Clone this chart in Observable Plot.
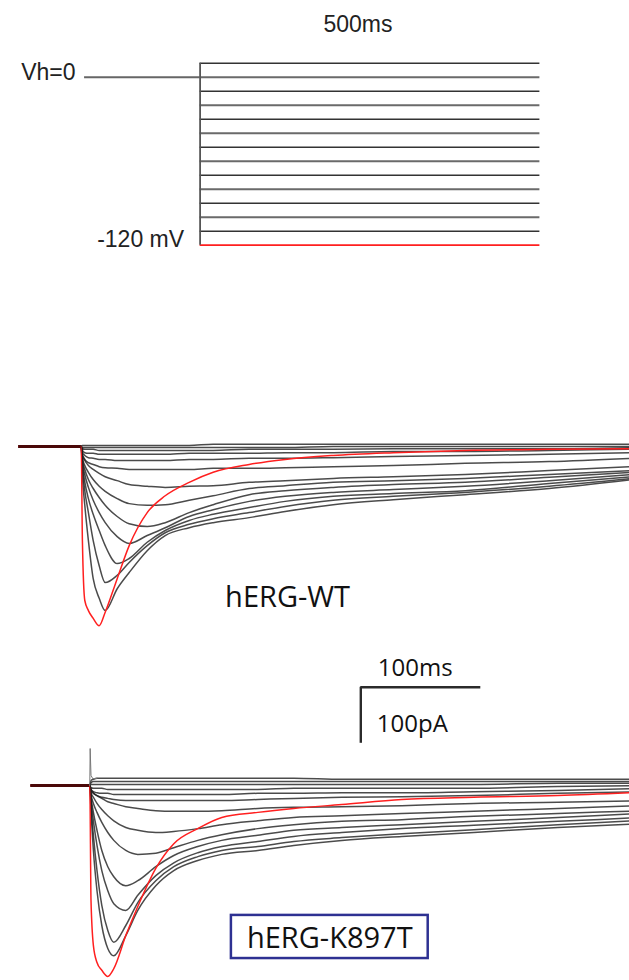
<!DOCTYPE html>
<html><head><meta charset="utf-8">
<script src="https://cdn.jsdelivr.net/npm/d3@7"></script>
<script src="https://cdn.jsdelivr.net/npm/@observablehq/plot@0.6"></script>
<style>
html,body{margin:0;padding:0;width:629px;height:980px;overflow:hidden;background:#fff;}
#root{position:relative;width:629px;height:980px;}
.panel{position:absolute;left:0;width:629px;overflow:hidden;}
.panel svg{display:block;}
</style></head><body><div id="root"></div>
<script>
// ---- voltage protocol ----
const stepVoltages = [10, 0, -10, -20, -30, -40, -50, -60, -70, -80, -90, -100, -110, -120]; // mV
const holdingVoltage = 0;       // mV
const holdingStart = -170;      // ms (before the step)
const stepDuration = 500;       // ms

// ---- sampled current traces (pA), one array per step voltage, at these times (ms) ----
const tSamples = [0, 1, 3, 6, 10, 15, 20, 30, 40, 55, 70, 90, 110, 140, 170, 210, 260, 320, 390, 460];

const wtCurrents = [
  [0,2,2,2,2,2,2,2,2,2,2,2,4,4,4,4,4,4,4,4],
  [0,-2,-2,-2,-2,-2,-2,-2,-2,-2,-2,-2,-2,-2,-2,0,0,0,0,0],
  [0,-4,-5,-5,-5,-7,-7,-7,-7,-7,-7,-7,-7,-5,-5,-5,-4,-4,-4,-2],
  [0,-7,-11,-12,-12,-14,-14,-14,-14,-14,-14,-12,-12,-12,-11,-11,-9,-9,-7,-5],
  [0,-11,-16,-20,-21,-23,-23,-25,-25,-25,-25,-23,-23,-21,-21,-20,-18,-16,-14,-11],
  [0,-14,-23,-29,-32,-36,-38,-39,-41,-41,-41,-41,-39,-39,-38,-36,-34,-30,-27,-21],
  [0,-16,-25,-34,-41,-48,-54,-61,-68,-71,-73,-71,-70,-64,-61,-57,-54,-50,-43,-36],
  [0,-20,-34,-46,-59,-71,-80,-93,-102,-105,-104,-96,-88,-75,-70,-64,-61,-57,-50,-43],
  [0,-23,-41,-59,-75,-91,-105,-125,-138,-143,-136,-118,-104,-86,-79,-73,-68,-64,-55,-46],
  [0,-27,-50,-73,-96,-118,-136,-161,-173,-159,-145,-125,-113,-98,-89,-82,-77,-71,-61,-50],
  [0,-32,-63,-93,-121,-150,-177,-209,-200,-171,-150,-132,-121,-109,-98,-89,-84,-79,-66,-54],
  [0,-39,-79,-118,-168,-213,-243,-230,-207,-177,-154,-139,-129,-118,-107,-96,-89,-82,-71,-57],
  [0,-52,-105,-168,-236,-271,-293,-254,-225,-186,-159,-145,-136,-127,-116,-104,-95,-86,-75,-59],
  [0,-168,-275,-293,-307,-320,-296,-236,-177,-118,-88,-64,-46,-32,-23,-16,-11,-7,-5,-4]
];

const k897tCurrents = [
  [0,9,11,13,13,13,13,13,13,13,13,13,13,13,13,11,11,11,11,11],
  [0,5,7,7,7,7,7,7,7,7,7,7,7,7,7,7,7,7,7,7],
  [0,2,2,2,2,2,2,2,2,2,2,2,2,2,2,2,2,2,4,4],
  [0,-4,-5,-5,-5,-7,-7,-7,-7,-7,-7,-7,-7,-7,-5,-5,-5,-5,-2,0],
  [0,-7,-11,-13,-14,-14,-16,-16,-16,-16,-16,-16,-16,-14,-14,-13,-13,-11,-9,-5],
  [0,-9,-14,-18,-21,-23,-25,-27,-27,-27,-27,-27,-27,-25,-23,-21,-20,-18,-14,-11],
  [0,-7,-13,-18,-23,-29,-32,-38,-41,-45,-46,-46,-45,-41,-39,-38,-36,-32,-30,-27],
  [0,-13,-21,-32,-43,-54,-63,-75,-80,-84,-82,-77,-70,-63,-57,-54,-50,-46,-41,-36],
  [0,-16,-32,-48,-66,-84,-98,-116,-123,-121,-111,-98,-88,-77,-70,-64,-61,-55,-50,-45],
  [0,-21,-48,-80,-116,-145,-163,-179,-170,-145,-125,-109,-98,-89,-80,-75,-70,-64,-57,-50],
  [0,-27,-63,-107,-152,-188,-211,-223,-196,-161,-138,-120,-109,-100,-91,-84,-77,-71,-64,-57],
  [0,-36,-89,-152,-214,-259,-280,-250,-209,-170,-145,-127,-116,-109,-100,-93,-86,-79,-70,-62],
  [0,-45,-116,-188,-250,-291,-304,-268,-223,-179,-152,-134,-123,-116,-107,-98,-91,-84,-75,-68],
  [0,-205,-286,-316,-330,-341,-327,-268,-216,-148,-104,-77,-57,-48,-41,-34,-25,-21,-18,-12]
];

// capacitive artefact at the step (K897T)
const spikeT = [0, 0.3, 1, 2.5, 6];
const spikeI = [0, 66, 18, 12, 13];

// pre-step holding segment start (ms)
const wtPreStart = -52;
const k897tPreStart = -49;

// labels
const panelLabels = ["hERG-WT", "hERG-K897T"];
const scaleBarTime = 100;   // ms
const scaleBarCurrent = 100; // pA

const RED = "#ff1f1f";
const root = document.getElementById("root");
function place(svg, top, height) {
  const d = document.createElement("div");
  d.className = "panel";
  d.style.top = top + "px";
  d.style.height = height + "px";
  d.appendChild(svg);
  root.appendChild(d);
}

// ---------- Protocol ----------
const protoFont = "Liberation Sans, Arial, sans-serif";
const stepRows = stepVoltages.map((v, k) => ({v, k, t1: 0, t2: stepDuration}));
const protocol = Plot.plot({
  width: 629, height: 330, margin: 0,
  x: {domain: [0, 500], range: [199.6, 539.4], axis: null},
  y: {domain: [10, -120], range: [62.7, 244.7], axis: null},
  style: {background: "transparent"},
  marks: [
    Plot.ruleY(stepRows.filter(d => d.v !== -120 && d.k % 2 === 0), {y: "v", x1: "t1", x2: "t2", stroke: "#333", strokeWidth: 1.4}),
    Plot.ruleY(stepRows.filter(d => d.v !== -120 && d.k % 2 === 1), {y: "v", x1: "t1", x2: "t2", stroke: "#6a6a6a", strokeWidth: 2}),
    Plot.ruleY(stepRows.filter(d => d.v === -120), {y: "v", x1: "t1", x2: "t2", stroke: RED, strokeWidth: 1.8}),
    Plot.ruleY([{v: holdingVoltage, t1: holdingStart, t2: 0}], {y: "v", x1: "t1", x2: "t2", stroke: "#666", strokeWidth: 2}),
    Plot.ruleX([{t: 0, v1: 10, v2: -120}], {x: "t", y1: "v1", y2: "v2", stroke: "#555", strokeWidth: 1.8}),
    Plot.text([{t: holdingStart, v: holdingVoltage, s: "Vh=0"}], {x: "t", y: "v", text: "s", textAnchor: "end", dx: -9, dy: -5, fontSize: 23, fontFamily: protoFont, fill: "#222"}),
    Plot.text([{t: 0, v: -120, s: "-120 mV"}], {x: "t", y: "v", text: "s", textAnchor: "end", lineAnchor: "bottom", dx: -16, dy: 2, fontSize: 23, fontFamily: protoFont, fill: "#222"}),
    Plot.text([{t: stepDuration / 2, v: 10, s: stepDuration + "ms"}], {x: "t", y: "v", text: "s", textAnchor: "middle", lineAnchor: "bottom", dx: -12, dy: -31, fontSize: 23, fontFamily: protoFont, fill: "#222"})
  ]
});
place(protocol, 0, 330);

// ---------- Current panels ----------
function traceRows(currents, preStart) {
  const out = [];
  stepVoltages.forEach((v, j) => {
    out.push({v, t: preStart, i: 0});
    tSamples.forEach((t, k) => out.push({v, t, i: currents[j][k]}));
  });
  return out;
}

function currentPanel({x0, y0, height, currents, preStart, extraMarks}) {
  const rows = traceRows(currents, preStart);
  return Plot.plot({
    width: 629, height, margin: 0,
    x: {domain: [0, 100], range: [x0, x0 + 120], axis: null},
    y: {domain: [0, -100], range: [y0, y0 + 56], axis: null},
    style: {background: "transparent"},
    marks: [
      Plot.line(rows.filter(d => d.v !== -120), {x: "t", y: "i", z: "v", stroke: "#1e1e1e", strokeWidth: 1.5, strokeOpacity: 0.8, curve: "monotone-x"}),
      Plot.line(rows.filter(d => d.v === -120), {x: "t", y: "i", stroke: RED, strokeWidth: 1.5, curve: "monotone-x"}),
      Plot.ruleY([{i: 0, t1: preStart, t2: 0}], {y: "i", x1: "t1", x2: "t2", stroke: "#4a0808", strokeWidth: 3}),
      ...extraMarks
    ]
  });
}

const labelFont = "Open Sans, Noto Sans, sans-serif";

// WT panel (page y 330..745)
const sb = {t: 233, i: -430};
const wt = currentPanel({
  x0: 80.7, y0: 116, height: 415, currents: wtCurrents, preStart: wtPreStart,
  extraMarks: [
    Plot.text([{t: 172, i: -287, s: panelLabels[0]}], {x: "t", y: "i", text: "s", lineAnchor: "bottom", fontSize: 29, fontFamily: labelFont, fill: "#111"}),
    Plot.ruleY([{i: sb.i, t1: sb.t, t2: sb.t + scaleBarTime}], {y: "i", x1: "t1", x2: "t2", stroke: "#2b2b2b", strokeWidth: 2.4}),
    Plot.ruleX([{t: sb.t, i1: sb.i, i2: sb.i - scaleBarCurrent}], {x: "t", y1: "i1", y2: "i2", stroke: "#2b2b2b", strokeWidth: 2.4}),
    Plot.text([{t: sb.t, i: sb.i, s: scaleBarTime + "ms"}], {x: "t", y: "i", text: "s", textAnchor: "start", lineAnchor: "bottom", dx: 17, dy: -11, fontSize: 24, fontFamily: labelFont, fill: "#111"}),
    Plot.text([{t: sb.t, i: sb.i, s: scaleBarCurrent + "pA"}], {x: "t", y: "i", text: "s", textAnchor: "start", lineAnchor: "bottom", dx: 16, dy: 45, fontSize: 24, fontFamily: labelFont, fill: "#111"})
  ]
});
place(wt, 330, 415);

// K897T panel (page y 745..980)
const spikeRows = spikeT.map((t, k) => ({t, i: spikeI[k]}));
const k897t = currentPanel({
  x0: 89.3, y0: 40, height: 235, currents: k897tCurrents, preStart: k897tPreStart,
  extraMarks: [
    Plot.line(spikeRows, {x: "t", y: "i", stroke: "#777", strokeWidth: 1}),
    Plot.rect([{t1: 118, t2: 282, i1: -232, i2: -309}], {x1: "t1", x2: "t2", y1: "i1", y2: "i2", fill: "none", stroke: "#2e3192", strokeWidth: 2.5}),
    Plot.text([{t: 200, i: -291, s: panelLabels[1]}], {x: "t", y: "i", text: "s", lineAnchor: "bottom", fontSize: 29, fontFamily: labelFont, fill: "#111"})
  ]
});
place(k897t, 745, 235);
</script></body></html>
